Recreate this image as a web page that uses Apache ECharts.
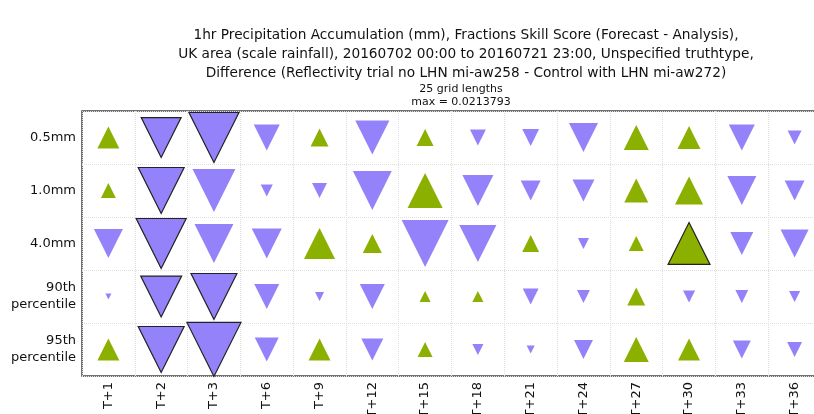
<!DOCTYPE html>
<html>
<head>
<meta charset="utf-8">
<script src="https://cdn.jsdelivr.net/npm/echarts@6/dist/echarts.min.js"></script>
<style>
  html, body { margin: 0; padding: 0; background: #fff; }
  #chart { width: 814px; height: 414px; }
</style>
</head>
<body>
<div id="chart"></div>
<script>
// Forecast lead times (columns) and rain thresholds (rows)
const leadTimes = ['T+1', 'T+2', 'T+3', 'T+6', 'T+9', 'T+12', 'T+15', 'T+18', 'T+21', 'T+24', 'T+27', 'T+30', 'T+33', 'T+36'];
const thresholds = ['0.5mm', '1.0mm', '4.0mm', '90th\npercentile', '95th\npercentile'];

// FSS difference (trial - control) per threshold, one value per lead time
const diff05mm  = [0.0087, -0.0158, -0.0198, -0.0103, 0.0071, -0.0135, 0.0067, -0.0063, -0.0067, -0.0115, 0.0099, 0.0091, -0.0103, -0.0055];
const diff10mm  = [0.0059, -0.0182, -0.0170, -0.0048, -0.0059, -0.0154, 0.0139, -0.0123, -0.0079, -0.0087, 0.0095, 0.0111, -0.0115, -0.0079];
const diff40mm  = [-0.0115, -0.0198, -0.0154, -0.0119, 0.0123, 0.0075, -0.0186, -0.0147, 0.0067, -0.0044, 0.0059, 0.0166, -0.0091, -0.0111];
const diffP90   = [-0.0024, -0.0162, -0.0182, -0.0099, -0.0036, -0.0099, 0.0044, 0.0044, -0.0063, -0.0051, 0.0071, -0.0048, -0.0051, -0.0044];
const diffP95   = [0.0087, -0.0182, -0.0214, -0.0095, 0.0087, -0.0087, 0.0059, -0.0044, -0.0032, -0.0075, 0.0099, 0.0087, -0.0071, -0.0059];

// Significant differences (outlined markers): [threshold index, lead time index]
const significant = [[0, 1], [0, 2], [1, 1], [2, 1], [2, 11], [3, 1], [3, 2], [4, 1], [4, 2]];

const maxDiff = 0.0213793;
const maxMarker = 54;   // marker width in px for the largest difference
const upColor = '#8cb000';
const downColor = '#9382fa';

const rows = [diff05mm, diff10mm, diff40mm, diffP90, diffP95];
const isSig = (r, c) => significant.some(s => s[0] === r && s[1] === c);

const points = [];
rows.forEach((vals, r) => {
  vals.forEach((v, c) => {
    const sig = isSig(r, c);
    points.push({
      value: [c, r, v],
      symbol: 'triangle',
      symbolRotate: v < 0 ? 180 : 0,
      symbolSize: maxMarker * Math.abs(v) / maxDiff,
      itemStyle: {
        color: v < 0 ? downColor : upColor,
        opacity: 1,
        borderColor: sig ? '#222' : 'transparent',
        borderWidth: sig ? 1.2 : 0
      }
    });
  });
});

const chart = echarts.init(document.getElementById('chart'));
chart.setOption({
  animation: false,
  backgroundColor: '#fff',
  title: [
    {
      text: '1hr Precipitation Accumulation (mm), Fractions Skill Score (Forecast - Analysis),\nUK area (scale rainfall), 20160702 00:00 to 20160721 23:00, Unspecified truthtype,\nDifference (Reflectivity trial no LHN mi-aw258 - Control with LHN mi-aw272)',
      left: 461, top: 21, textAlign: 'center',
      textStyle: { fontFamily: 'DejaVu Sans', fontSize: 13.7, fontWeight: 'normal', color: '#111', lineHeight: 19 }
    },
    {
      text: '25 grid lengths\nmax = 0.0213793',
      left: 456, top: 78, textAlign: 'center',
      textStyle: { fontFamily: 'DejaVu Sans', fontSize: 11, fontWeight: 'normal', color: '#111', lineHeight: 13 }
    }
  ],
  grid: {
    left: 82, top: 111, right: -7, bottom: 38,
    outerBoundsMode: 'none',
    show: true, borderColor: '#444', borderWidth: 1.5
  },
  xAxis: {
    type: 'category',
    data: leadTimes,
    boundaryGap: true,
    axisLine: { show: false },
    axisTick: { show: false },
    axisLabel: { rotate: 90, fontFamily: 'DejaVu Sans', fontSize: 13, color: '#111', margin: 6 },
    splitLine: { show: true, lineStyle: { color: '#ddd', type: 'dotted', width: 1 } }
  },
  yAxis: {
    type: 'category',
    data: thresholds,
    inverse: true,
    boundaryGap: true,
    axisLine: { show: false },
    axisTick: { show: false },
    axisLabel: { fontFamily: 'DejaVu Sans', fontSize: 13, color: '#111', margin: 6, align: 'right', lineHeight: 17 },
    splitLine: { show: true, lineStyle: { color: '#ddd', type: 'dotted', width: 1 } }
  },
  series: [{
    type: 'scatter',
    data: points,
    clip: false
  }]
});
</script>
</body>
</html>
